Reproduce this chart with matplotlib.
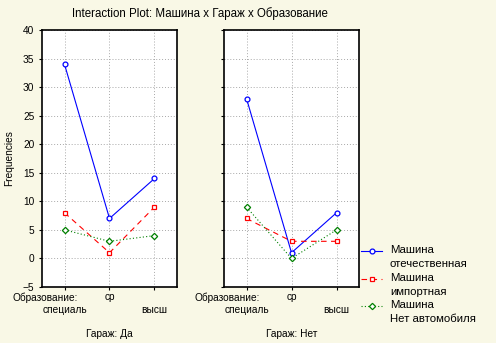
import matplotlib
matplotlib.use('Agg')
import matplotlib.pyplot as plt
import matplotlib.transforms as mtransforms
from matplotlib.lines import Line2D

plt.rcParams['font.family'] = ['Liberation Sans', 'DejaVu Sans']
plt.rcParams['font.size'] = 7

# data
education = ['специаль', 'ср', 'высш']
garages = ['Да', 'Нет']
series_names = ['Машина\nотечественная', 'Машина\nимпортная', 'Машина\nНет автомобиля']

# values per garage panel: [garage][series][education]
domestic = {'Да': [34, 7, 14], 'Нет': [28, 1, 8]}
imported = {'Да': [8, 1, 9], 'Нет': [7, 3, 3]}
no_car = {'Да': [5, 3, 4], 'Нет': [9, 0, 5]}

styles = [
    dict(color='#0000ff', ls='-', marker='o'),
    dict(color='#ff0000', ls=(0, (5, 4)), marker='s'),
    dict(color='#008000', ls=(0, (1, 2)), marker='D'),
]
series = [domestic, imported, no_car]

bg = '#f9f8e6'
fig = plt.figure(figsize=(4.96, 3.43), dpi=100, facecolor=bg)

W, H = 496, 343
ax_left = [42, 224]
ax_w = 135
ax_top, ax_bot = 30, 287

for i, g in enumerate(garages):
    ax = fig.add_axes([ax_left[i] / W, 1 - ax_bot / H, ax_w / W, (ax_bot - ax_top) / H])
    ax.set_facecolor('white')
    xs = list(range(len(education)))
    for s, st in zip(series, styles):
        ms = 3.2 if st['marker'] == 'D' else 3.5
        ax.plot(xs, s[g], color=st['color'], linestyle=st['ls'], marker=st['marker'],
                markersize=ms, markerfacecolor='white', markeredgecolor=st['color'],
                markeredgewidth=0.9, linewidth=0.8)
    ax.set_xlim(-0.5, 2.5)
    ax.set_ylim(-5, 40)
    ax.set_yticks(range(-5, 41, 5))
    ax.set_xticks(xs)
    # staggered category labels: middle one on the first row, others below
    ax.set_xticklabels(['', education[1], ''])
    trans = mtransforms.blended_transform_factory(ax.transData, ax.transAxes)
    for k in (0, 2):
        ax.text(xs[k], -0.089, education[k], transform=trans,
                ha='center', va='center', fontsize=7.3)
    ax.grid(True, color='#a8a8a8', linestyle=(0, (1, 2)), linewidth=0.7)
    ax.tick_params(direction='out', length=2.5, width=0.8, pad=3, labelsize=7.3)
    ax.tick_params(axis='x', pad=1)
    if i == 1:
        ax.tick_params(axis='y', labelleft=False)
    else:
        ax.set_ylabel('Frequencies', fontsize=7.3, labelpad=6)
    for sp in ax.spines.values():
        sp.set_linewidth(1.2)
    ax.text(-0.222, -0.022, 'Образование:', transform=ax.transAxes,
            ha='left', va='top', fontsize=7.3)
    ax.text(0.5, -0.165, 'Гараж: ' + g, transform=ax.transAxes,
            ha='center', va='top', fontsize=7.3)

fig.text(200 / W, 1 - 14 / H, 'Interaction Plot: Машина x Гараж x Образование',
         ha='center', va='center', fontsize=8.3)

# legend drawn by hand
leg_y = [251, 279, 306]
for y, name, st in zip(leg_y, series_names, styles):
    ms = 3.2 if st['marker'] == 'D' else 3.5
    fig.add_artist(Line2D([361 / W, 382 / W], [1 - y / H, 1 - y / H],
                          color=st['color'], linestyle=st['ls'], linewidth=0.8))
    fig.add_artist(Line2D([371.5 / W], [1 - y / H], marker=st['marker'],
                          markersize=ms, markerfacecolor='white',
                          markeredgecolor=st['color'], markeredgewidth=0.9,
                          linestyle='none'))
    fig.text(390 / W, 1 - (y - 6) / H, name, ha='left', va='top',
             fontsize=8.2, linespacing=1.45)

fig.savefig('out.png', dpi=100, facecolor=bg)
